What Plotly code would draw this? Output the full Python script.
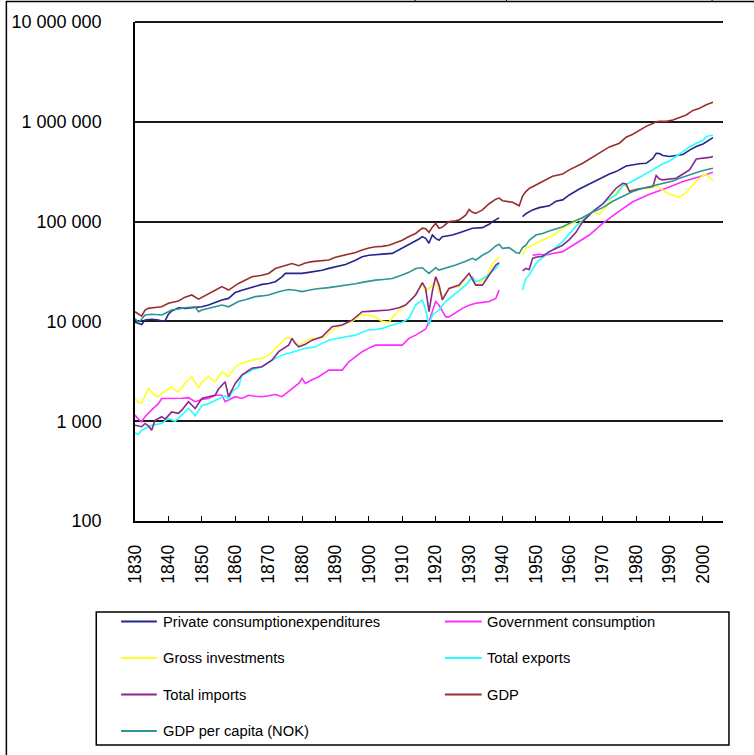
import plotly.graph_objects as go

# ---------------- data ----------------
priv_years = [1830,1831,1832,1833,1835,1837,1838,1839,1840,1841,1843,1845,1848,1850,1852,1854,1856,1858,1860,1862,1864,1866,1868,1870,1872,1874,1875,1878,1880,1882,1884,1886,1888,1890,1893,1896,1898,1900,1902,1905,1907,1909,1911,1913,1915,1916,1917,1918,1919,1920,1921,1922,1925,1928,1931,1934,1936,1937,1939,
              1942,
              1946,1947,1949,1951,1954,1956,1958,1960,1963,1966,1969,1972,1974,1977,1979,1981,1983,1985,1986,1987,1988,1990,1992,1994,1996,1998,2000,2002,2003]
priv_values = [9800,9500,9300,10300,10500,10300,10070,10100,11800,12700,13700,13500,13700,14000,14600,15500,16400,17000,19500,20500,21400,22500,23500,24000,25000,28000,30300,30300,30300,31000,31500,32500,34000,35500,37200,41000,44500,46000,46900,47500,48000,52000,57000,62000,67000,70700,68000,60700,73400,68000,65000,70700,73400,79300,85700,87000,94000,100000,109000,
               None,
               112000,120000,131000,138000,144000,160000,165000,185000,212000,240000,267000,300000,317000,360000,370000,380000,384000,430000,484000,480000,460000,449000,460000,470000,520000,565000,600000,660000,695000]

gov_years = [1830,1831,1832,1833,1835,1837,1838,1841,1844,1846,1848,1850,1852,1854,1856,1857,1860,1862,1864,1866,1868,1870,1872,1874,1877,1879,1880,1881,1883,1885,1888,1890,1892,1894,1896,1898,1900,1902,1905,1907,1910,1912,1914,1916,1917,1918,1919,1920,1921,1922,1923,1924,1926,1928,1930,1932,1934,1936,1938,1939,
             1944,
             1949,1951,1953,1955,1958,1962,1966,1970,1974,1979,1984,1989,1994,1999,2003]
gov_values = [1150,1050,986,1110,1300,1500,1690,1690,1700,1720,1570,1650,1690,1820,1820,1570,1760,1690,1820,1780,1760,1800,1850,1760,2130,2390,2680,2390,2600,2790,3250,3250,3250,3940,4400,4970,5400,5780,5780,5780,5780,6760,7280,8000,8380,10000,12500,15800,14500,12500,11100,11100,12300,13500,14500,15200,15500,15800,17000,20600,
              None,
              46000,47000,46000,48000,50000,60700,73400,96000,121000,158000,188000,216000,252000,282000,312000]

inv_years = [1830,1831,1832,1833,1834,1835,1836,1837,1838,1840,1841,1842,1843,1845,1847,1848,1849,1850,1852,1854,1856,1858,1860,1862,1865,1868,1870,1871,1873,1875,1876,1877,1879,1881,1883,1885,1887,1889,1892,1895,1897,1898,1900,1902,1904,1906,1908,1910,1911,1913,1914,1916,1917,1918,1920,1921,1922,1924,1927,1929,1930,1931,1932,1935,1937,1939,
             1942,
             1946,1947,1949,1951,1953,1955,1958,1962,1964,1967,1969,1971,1973,1975,1976,1977,1978,1980,1982,1984,1986,1988,1990,1992,1993,1995,1997,1999,2000,2001,2002,2003]
inv_values = [1700,1550,1510,1800,2130,1950,1820,1760,1900,2100,2210,2050,1970,2400,2790,2450,2160,2450,2790,2480,3130,2790,3510,3800,4090,4260,4600,4970,5800,6760,6900,6500,5780,6300,6760,6800,7020,8190,9190,10000,11000,11750,11600,11000,10000,9800,12000,13500,14600,17000,19100,23400,19900,21400,25000,20000,17700,21400,22300,27000,30300,26000,23100,26900,38000,44500,
              None,
              46000,53900,58000,63000,68000,72000,85700,100000,108000,126000,118000,140000,178000,215000,235000,225000,205000,212000,216000,215000,229000,207000,188000,180000,176000,195000,235000,272000,290000,296000,275000,261000]

exp_years = [1830,1831,1832,1834,1835,1838,1840,1842,1843,1844,1846,1847,1848,1850,1852,1854,1856,1857,1858,1859,1861,1862,1864,1865,1868,1871,1874,1876,1878,1881,1884,1886,1888,1890,1892,1894,1896,1898,1900,1902,1904,1907,1910,1912,1914,1915,1916,1917,1918,1919,1921,1923,1926,1929,1931,1932,1933,1935,1938,1939,
             1942,
             1946,1947,1948,1949,1950,1951,1953,1955,1958,1960,1962,1964,1966,1968,1970,1972,1974,1976,1978,1980,1982,1984,1986,1988,1990,1992,1994,1996,1998,2000,2001,2002,2003]
exp_values = [760,740,813,880,912,948,1065,1000,1065,1150,1340,1250,1130,1430,1500,1620,1760,1800,1660,1970,2210,2900,3100,3250,3510,4090,4590,4800,4970,5370,5570,6000,6490,6700,6850,7000,7280,7800,8190,8300,8510,9190,9800,10700,14600,15500,16400,13000,9190,11600,13000,15800,19100,23100,28000,25000,25500,28000,33900,37300,
              None,
              20600,27000,29100,33900,38000,41200,46000,52000,63000,75000,90000,103000,118000,135000,151000,170000,185000,229000,245000,265000,290000,317000,350000,380000,405000,450000,510000,560000,610000,650000,710000,728000,728000]

imp_years = [1830,1831,1832,1833,1834,1835,1836,1838,1839,1841,1843,1844,1846,1848,1850,1852,1854,1855,1857,1858,1860,1862,1865,1868,1871,1873,1876,1877,1878,1879,1881,1883,1886,1889,1892,1895,1898,1900,1902,1906,1909,1911,1914,1916,1917,1918,1919,1920,1921,1922,1924,1927,1930,1931,1932,1934,1936,1938,1939,
             1942,
             1946,1947,1948,1949,1950,1952,1954,1958,1960,1962,1964,1967,1970,1972,1974,1976,1977,1978,1980,1982,1984,1985,1986,1987,1988,1990,1992,1994,1996,1998,2000,2002,2003]
imp_values = [912,900,880,950,900,813,1020,1110,1050,1240,1200,1290,1570,1340,1690,1760,1820,2100,2480,1760,2390,2900,3390,3510,4090,4970,5780,6760,6000,5570,5900,6490,7020,8850,9190,10300,12500,12600,12700,13000,13700,14600,18400,24500,21400,12500,20000,28000,23100,16400,21400,23100,30300,26000,23100,23100,29100,36700,38800,
              None,
              32000,34000,33000,42800,44000,45000,50000,58000,66000,78000,100000,126000,150000,180000,216000,242000,238000,200000,210000,216000,220000,224000,289000,267000,262000,265000,272000,300000,330000,424000,430000,440000,449000]

gdp_years = [1830,1831,1832,1833,1834,1836,1838,1840,1843,1845,1847,1849,1852,1854,1856,1858,1861,1863,1865,1868,1870,1872,1875,1877,1879,1881,1883,1886,1888,1890,1893,1896,1898,1900,1902,1904,1906,1908,1910,1912,1914,1916,1917,1918,1919,1920,1921,1922,1924,1926,1927,1929,1930,1931,1932,1934,1936,1938,1939,1940,1941,1942,1943,1944,1945,1946,1947,1948,1949,1951,1953,1955,1958,1960,1964,1966,1969,1972,1975,1977,1979,1981,1983,1985,1986,1987,1989,1991,1993,1995,1997,1999,2001,2003]
gdp_values = [12500,11800,11300,13000,13500,13800,14000,15200,16000,17500,18400,16700,19100,20500,22300,20600,24000,26000,28000,29000,30200,33900,36000,38000,36200,38500,39700,40500,41200,44000,46200,49000,51900,54500,56000,56500,58000,61000,65000,71000,76000,86000,85000,78000,88000,96000,85700,88000,100000,102000,104000,116000,132000,124000,121000,131000,151000,168000,172000,162000,160000,158000,156000,150000,144000,180000,200000,215000,224000,245000,261000,285000,300000,330000,384000,420000,490000,560000,610000,700000,750000,830000,900000,960000,1000000,1010000,1010000,1040000,1110000,1170000,1300000,1370000,1480000,1570000]

cap_years = [1830,1831,1832,1833,1835,1838,1840,1841,1843,1845,1848,1849,1850,1852,1854,1856,1858,1861,1863,1866,1868,1870,1873,1876,1878,1880,1882,1884,1888,1890,1893,1896,1898,1900,1902,1905,1907,1910,1912,1914,1916,1918,1920,1921,1923,1926,1929,1931,1932,1934,1936,1938,1939,1940,1942,1943,1944,1945,1946,1947,1948,1950,1952,1954,1958,1960,1964,1967,1970,1973,1976,1979,1982,1985,1988,1991,1993,1996,1999,2001,2003]
cap_values = [10700,9800,10500,11600,11800,11600,12500,13000,13300,13700,14000,12500,13000,13500,14000,14600,14000,15800,16500,17700,18000,18400,19800,20900,20500,19900,20500,21100,21800,22300,22800,23800,24600,25400,25900,26400,26900,29100,31000,33900,34500,30300,34500,32700,34000,36700,40000,42800,41200,46000,50000,57000,59200,53900,54800,52000,49000,48000,55000,58200,65000,73400,76000,80500,89000,96000,110000,125000,138000,160000,180000,200000,216000,228000,242000,255000,272000,295000,317000,330000,343000]

series_names = ["Private consumptionexpenditures", "Government consumption",
                "Gross investments", "Total exports",
                "Total imports", "GDP", "GDP per capita (NOK)"]
series_colors = ["#25258c", "#ff2bff", "#ffff26", "#26ffff", "#8c268c", "#992e2e", "#2e9494"]
series_x = [priv_years, gov_years, inv_years, exp_years, imp_years, gdp_years, cap_years]
series_y = [priv_values, gov_values, inv_values, exp_values, imp_values, gdp_values, cap_values]

x_tick_years = list(range(1830, 2001, 10))
y_tick_values = [100, 1000, 10000, 100000, 1000000, 10000000]
y_tick_text = ["100", "1 000", "10 000", "100 000", "1 000 000", "10 000 000"]

# ---------------- layout geometry (pixels) ----------------
W, H = 754, 755
PL, PR, PT, PB = 131, 723, 22, 521
FONT = "Liberation Sans, Arial, sans-serif"

def xp(px):
    return (px - PL) / (PR - PL)

def yp(py):
    return (PB - py) / (PB - PT)

fig = go.Figure()
for name, col, xs, ys in zip(series_names, series_colors, series_x, series_y):
    fig.add_trace(go.Scatter(x=xs, y=ys, mode="lines", name=name,
                             line=dict(color=col, width=1.6),
                             connectgaps=False, showlegend=False))

shapes = []
annotations = []
# outer frame (extends outside the picture on right / bottom)
shapes.append(dict(type="rect", xref="paper", yref="paper",
                   x0=xp(1.5), x1=xp(900), y0=yp(900), y1=yp(1.5),
                   line=dict(color="black", width=1.5), layer="above"))
# tiny marks at the very top edge
for mx in (413, 505, 712):
    shapes.append(dict(type="line", xref="paper", yref="paper",
                       x0=xp(mx), x1=xp(mx), y0=yp(0), y1=yp(2),
                       line=dict(color="black", width=1)))
# top gridline (10 000 000)
shapes.append(dict(type="line", xref="paper", yref="paper",
                   x0=0, x1=1, y0=1, y1=1, line=dict(color="#1a1a1a", width=2)))

# legend box (drawn by hand, two columns as in the reference)
shapes.append(dict(type="rect", xref="paper", yref="paper",
                   x0=xp(92), x1=xp(729), y0=yp(745), y1=yp(612),
                   line=dict(color="black", width=1.5), fillcolor="white", layer="below"))
col_line_x = [(117, 153), (443, 480)]
col_text_x = [157, 483]
row_y = [621.5, 658, 694.5, 731]
for i, (name, col) in enumerate(zip(series_names, series_colors)):
    r, c = divmod(i, 2)
    y = row_y[r]
    shapes.append(dict(type="line", xref="paper", yref="paper",
                       x0=xp(col_line_x[c][0]), x1=xp(col_line_x[c][1]),
                       y0=yp(y), y1=yp(y), line=dict(color=col, width=2)))
    annotations.append(dict(xref="paper", yref="paper", x=xp(col_text_x[c]), y=yp(y),
                            text=name, showarrow=False, xanchor="left", yanchor="middle",
                            font=dict(family=FONT, size=14.7, color="black")))

fig.update_layout(
    width=W, height=H, autosize=False,
    margin=dict(l=PL, r=W - PR, t=PT, b=H - PB, pad=0),
    paper_bgcolor="white", plot_bgcolor="white",
    showlegend=False,
    shapes=shapes, annotations=annotations,
    font=dict(family=FONT, color="black"),
)
fig.update_xaxes(range=[1830, 2006], tickmode="array", tickvals=x_tick_years,
                 ticktext=[str(v) for v in x_tick_years], tickangle=-90,
                 ticks="inside", ticklen=5, tickwidth=1, tickcolor="black",
                 showline=True, linecolor="black", linewidth=1.5,
                 showgrid=False, zeroline=False, ticklabelstandoff=15,
                 tickfont=dict(family=FONT, size=17.5, color="black"))
fig.update_yaxes(type="log", range=[2, 7], tickmode="array", tickvals=y_tick_values,
                 ticktext=y_tick_text, ticks="", showline=True, linecolor="black",
                 linewidth=1.5, showgrid=True, gridcolor="#1a1a1a", gridwidth=2,
                 zeroline=False, ticklabelstandoff=28,
                 tickfont=dict(family=FONT, size=18, color="black"))

# remove the browser's default 8px page margin so the figure sits at (0, 0)
fig.write_html("out.html", config={"displayModeBar": False},
               post_script="document.body.style.margin='0';document.body.style.overflow='hidden';")
